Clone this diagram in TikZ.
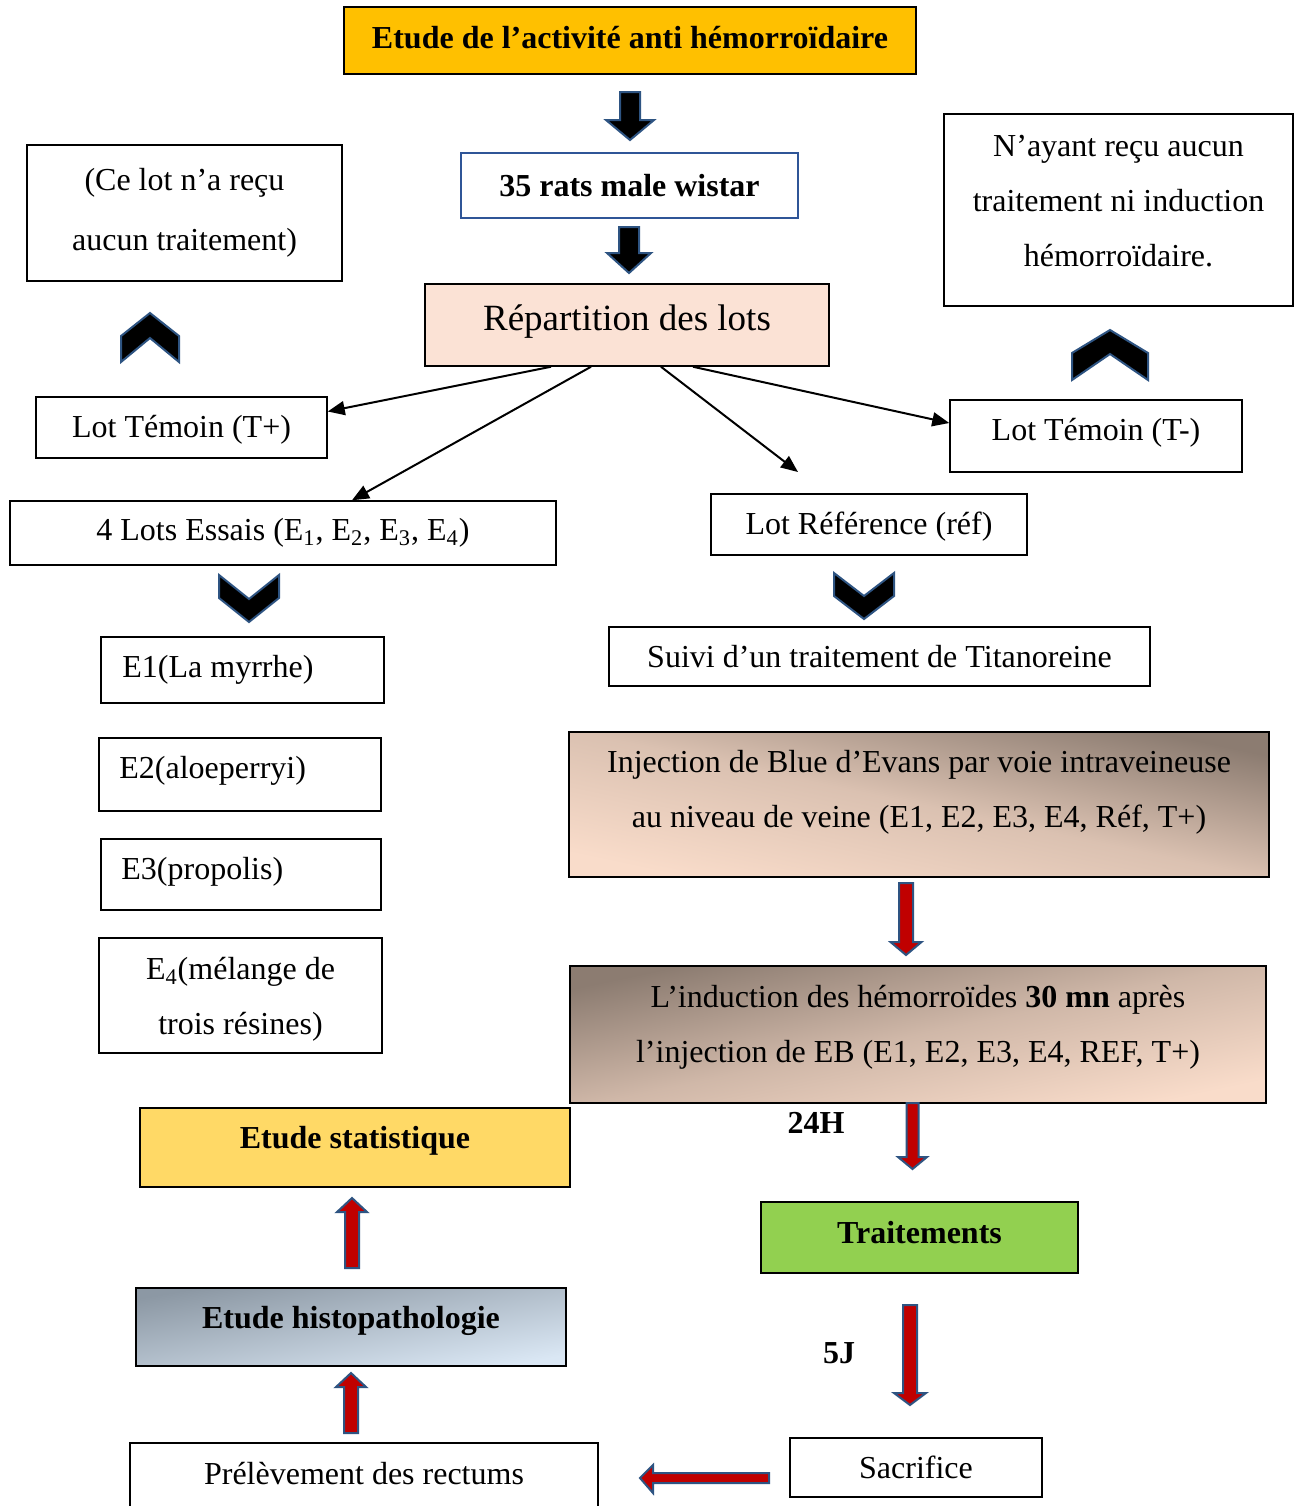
\documentclass[tikz,border=0pt]{standalone}
\usepackage{fontspec}
\setmainfont{Liberation Serif}
\usetikzlibrary{arrows.meta}
\definecolor{arrowblue}{RGB}{46,84,130}
\definecolor{darkred}{RGB}{192,0,0}
\definecolor{titleorange}{RGB}{255,192,0}
\definecolor{peach}{RGB}{251,226,213}
\definecolor{lightpeach}{RGB}{249,220,202}
\definecolor{taupe}{RGB}{140,124,113}
\definecolor{statgold}{RGB}{255,217,102}
\definecolor{traitgreen}{RGB}{146,208,80}
\definecolor{histodark}{RGB}{140,152,164}
\definecolor{histolight}{RGB}{218,231,244}
\definecolor{ratsblue}{RGB}{47,85,151}
\newcommand\blockV[7]{\draw[#7] ({#1-#5},#2) -- ({#1+#5},#2) -- ({#1+#5},#3) -- ({#1+#6},#3) -- (#1,#4) -- ({#1-#6},#3) -- ({#1-#5},#3) -- cycle;}
\newcommand\chev[7]{\draw[#7] (#1,#3) -- ({#1+#2},#4) -- ({#1+#2},#6) -- (#1,#5) -- ({#1-#2},#6) -- ({#1-#2},#4) -- cycle;}
\tikzset{
  box/.style={draw=black, line width=0.75pt, inner sep=0pt, align=center, font=\fontsize{16}{27.5}\selectfont},
  bbox/.style={box, font=\fontsize{16}{27.5}\selectfont\bfseries},
  txt/.style={inner sep=0pt, align=center, font=\fontsize{16}{27.5}\selectfont},
  btxt/.style={txt, font=\fontsize{16}{27.5}\selectfont\bfseries},
  conn/.style={line width=1pt, -{Triangle[length=8.5pt, width=7pt]}},
  blackblock/.style={fill=black, draw=arrowblue, line width=1pt, line join=miter},
  redblock/.style={fill=darkred, draw=arrowblue, line width=1pt, line join=miter},
}
\begin{document}
\begin{tikzpicture}[x=0.5pt, y=-0.5pt]
\clip (0,0) rectangle (1297,1506);
\fill[white] (0,0) rectangle (1297,1506);

% top column
\node[bbox, fill=titleorange, minimum width=286pt, minimum height=33.5pt] (title) at (630,40.5) {};
\node[btxt] (titlet) at (630,38) {Etude de l’activité anti hémorroïdaire};
\node[bbox, draw=ratsblue, line width=1pt, minimum width=168.5pt, minimum height=32.5pt] (rats) at (629.5,185.5) {35 rats male wistar};
\node[box, fill=peach, minimum width=202pt, minimum height=41pt] (rep) at (627,325) {};
\node[txt, font=\fontsize{18.5}{22}\selectfont] (rept) at (627,322) {Répartition des lots};

\blockV{630}{92}{120}{140}{10}{24}{blackblock}
\blockV{629}{227}{253}{273}{10}{22}{blackblock}

% side notes
\node[box, minimum width=157.5pt, minimum height=68pt] (ce) at (184.5,213) {};
\node[txt, font=\fontsize{16}{30}\selectfont] (cet) at (184.5,213) {(Ce lot n’a reçu\\aucun traitement)};
\node[box, minimum width=174.5pt, minimum height=96pt] (nay) at (1118.5,210) {};
\node[txt] (nayt) at (1118.5,201) {N’ayant reçu aucun\\traitement ni induction\\hémorroïdaire.};

\chev{150}{29}{313}{336}{338}{362}{blackblock}
\chev{1110}{38}{330}{353}{354}{380}{blackblock}

% lots
\node[box, minimum width=145.5pt, minimum height=30.5pt] (tplus) at (181.5,427.5) {};
\node[txt] (tplust) at (181.5,430) {Lot Témoin (T+)};
\node[box, minimum width=146pt, minimum height=36pt] (tminus) at (1096,436) {};
\node[txt] (tminust) at (1096,433) {Lot Témoin (T-)};
\node[box, minimum width=273pt, minimum height=32pt] (essais) at (283,533) {4 Lots Essais (E\textsubscript{1}, E\textsubscript{2}, E\textsubscript{3}, E\textsubscript{4})};
\node[box, minimum width=158pt, minimum height=30.5pt] (ref) at (869,524.5) {};
\node[txt] (reft) at (869,527) {Lot Référence (réf)};
\coordinate (refTip) at (798,472);

\draw[conn] ([xshift=-38pt]rep.south) -- ([yshift=8pt]tplus.east);
\draw[conn] ([xshift=-18pt]rep.south) -- ([xshift=34.5pt]essais.north);
\draw[conn] ([xshift=17pt]rep.south) -- (refTip);
\draw[conn] ([xshift=33pt]rep.south) -- ([yshift=6.5pt]tminus.west);

\chev{249}{30}{622}{598}{599}{575}{blackblock}
\chev{864}{30}{619}{596}{596}{573}{blackblock}

% E boxes
\node[box, minimum width=141.5pt, minimum height=33pt] (e1) at (242.5,670) {};
\node[txt, anchor=west] (e1t) at (122,670) {E1(La myrrhe)};
\node[box, minimum width=141pt, minimum height=36.5pt] (e2) at (240,774.5) {};
\node[txt, anchor=west] (e2t) at (119,771) {E2(aloeperryi)};
\node[box, minimum width=140pt, minimum height=35.5pt] (e3) at (241,874.5) {};
\node[txt, anchor=west] (e3t) at (121,872) {E3(propolis)};
\node[box, minimum width=141.5pt, minimum height=57.5pt] (e4) at (240.5,995.5) {};
\node[txt] (e4t) at (240.5,999) {E\textsubscript{4}(mélange de\\trois résines)};

% right column
\node[box, top color=taupe, bottom color=lightpeach, middle color=lightpeach!72!taupe, shading angle=-12, minimum width=350pt, minimum height=72.5pt] (inj) at (919,804.5) {};
\node[txt] (injt) at (919,792.5) {Injection de Blue d’Evans par voie intraveineuse\\au niveau de veine (E1, E2, E3, E4, Réf, T+)};
\node[box, minimum width=270.5pt, minimum height=29.5pt] (suivi) at (879.5,656.5) {Suivi d’un traitement de Titanoreine};
\blockV{906}{883}{942}{955}{7}{15.5}{redblock}
\node[box, top color=taupe, bottom color=lightpeach, middle color=lightpeach!62!taupe, shading angle=12, minimum width=348pt, minimum height=68.5pt] (ind) at (918,1034.5) {};
\node[txt] (indt) at (918,1027) {L’induction des hémorroïdes \textbf{30 mn} après\\l’injection de EB (E1, E2, E3, E4, REF, T+)};
\node[btxt] (h24) at (816,1123) {24H};
\blockV{912.5}{1103}{1157}{1169}{6}{14.5}{redblock}
\node[bbox, fill=traitgreen, minimum width=158.5pt, minimum height=35.5pt] (trait) at (919.5,1237.5) {};
\node[btxt] (traitt) at (919.5,1233) {Traitements};
\node[btxt] (j5) at (839,1353) {5J};
\blockV{910}{1305}{1393}{1405}{7}{16}{redblock}
\node[box, minimum width=126pt, minimum height=29.5pt] (sacr) at (916,1467.5) {Sacrifice};
\draw[redblock] (769,1473) -- (769,1483) -- (653,1483) -- (653,1493) -- (640,1478) -- (653,1465) -- (653,1473) -- cycle;

% left bottom column
\node[box, minimum width=234pt, minimum height=36pt] (prel) at (364,1479) {};
\node[txt] (prelt) at (364,1474) {Prélèvement des rectums};
\blockV{351}{1433}{1387}{1373}{7}{15}{redblock}
\node[box, top color=histodark, bottom color=histolight, shading angle=10, minimum width=215pt, minimum height=39pt] (histo) at (351,1327) {};
\node[btxt] (histot) at (351,1321) {Etude histopathologie};
\blockV{352}{1268}{1212}{1198}{7}{15}{redblock}
\node[box, fill=statgold, minimum width=215pt, minimum height=39.5pt] (stat) at (355,1147.5) {};
\node[btxt] (statt) at (355,1141) {Etude statistique};
\end{tikzpicture}
\end{document}
